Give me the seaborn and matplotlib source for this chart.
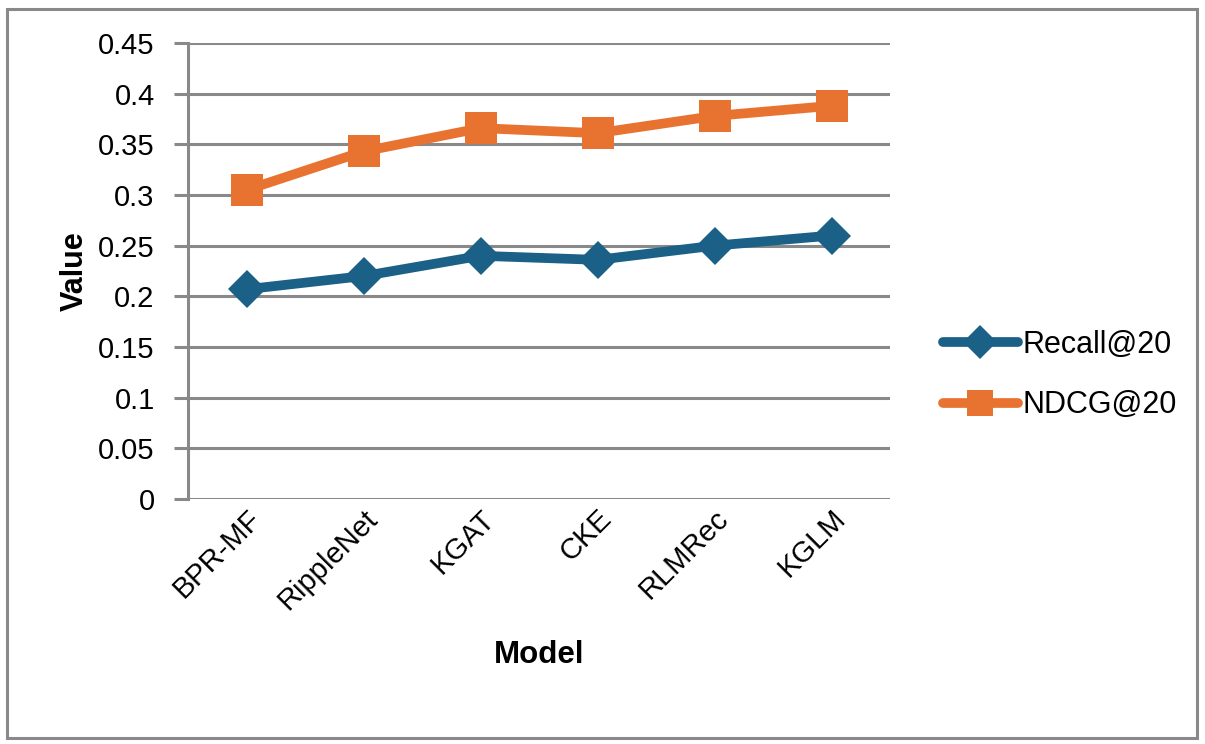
import matplotlib
matplotlib.use("Agg")
import matplotlib.pyplot as plt
import seaborn as sns
import pandas as pd
from matplotlib.patches import Rectangle

models = ["BPR-MF", "RippleNet", "KGAT", "CKE", "RLMRec", "KGLM"]
recall20 = [0.207, 0.220, 0.240, 0.236, 0.250, 0.260]
ndcg20 = [0.305, 0.343, 0.366, 0.361, 0.378, 0.388]
series_names = ["Recall@20", "NDCG@20"]
yticks = [0, 0.05, 0.1, 0.15, 0.2, 0.25, 0.3, 0.35, 0.4, 0.45]
ytick_labels = ["0", "0.05", "0.1", "0.15", "0.2", "0.25", "0.3", "0.35", "0.4", "0.45"]

df = pd.DataFrame({
    "Model": models * 2,
    "Value": recall20 + ndcg20,
    "Series": [series_names[0]] * len(models) + [series_names[1]] * len(models),
})

sns.set_theme(style="white")
plt.rcParams["font.family"] = ["Liberation Sans", "DejaVu Sans"]
plt.rcParams["text.color"] = "black"
plt.rcParams["axes.labelcolor"] = "black"
plt.rcParams["xtick.color"] = "black"
plt.rcParams["ytick.color"] = "black"

fig = plt.figure(figsize=(12.05, 7.44), dpi=100)
ax = fig.add_axes([188 / 1205, 1 - 499 / 744, (890 - 188) / 1205, (499 - 43) / 744])

grid_c = "#898989"
for yt in yticks:
    ax.axhline(yt, color=grid_c, lw=2.2, zorder=0)

palette = {"Recall@20": "#1b6086", "NDCG@20": "#e87331"}
markers = {"Recall@20": "D", "NDCG@20": "s"}
sns.lineplot(data=df, x="Model", y="Value", hue="Series", style="Series",
             markers=markers, dashes=False, palette=palette, ax=ax,
             lw=7, markersize=22, markeredgewidth=0, sort=False, zorder=3)
for ln in ax.get_lines():
    if ln.get_marker() == "D":
        ln.set_markersize(19.5)
    elif ln.get_marker() == "s":
        ln.set_markersize(22.5)

ax.set_xlim(-0.5, len(models) - 0.5)
ax.set_ylim(0, 0.45)
ax.set_yticks(yticks)
ax.set_yticklabels(ytick_labels, fontsize=21, color="black")
ax.set_xticks(range(len(models)))
ax.set_xticklabels(models, fontsize=21, rotation=45, ha="right", va="top",
                   rotation_mode="anchor", color="black")
ax.tick_params(axis="y", length=10, width=2.2, color=grid_c, pad=14, left=True,
               labelcolor="black")
ax.tick_params(axis="x", length=0, pad=4, labelcolor="black")

for s in ["top", "right", "bottom"]:
    ax.spines[s].set_visible(False)
ax.spines["left"].set_color(grid_c)
ax.spines["left"].set_linewidth(2.2)

ax.set_xlabel("Model", fontsize=22.5, fontweight="bold", labelpad=18, color="black")
ax.set_ylabel("Value", fontsize=22, fontweight="bold", labelpad=6, color="black")

handles, labels = ax.get_legend_handles_labels()
for h in handles:
    h.set_linewidth(7)
    h.set_solid_capstyle("round")
    if h.get_marker() == "D":
        h.set_markersize(17)
    else:
        h.set_markersize(19)
leg = ax.legend(handles, labels, loc="center left", bbox_to_anchor=(1.075, 0.272),
                frameon=False, fontsize=22, handlelength=2.45, handletextpad=0.15,
                labelspacing=1.0, borderaxespad=0, borderpad=0)
for t in leg.get_texts():
    t.set_color("black")

fig.patches.append(Rectangle((7 / 1205, 6 / 744), 1190 / 1205, 729 / 744,
                             transform=fig.transFigure, fill=False,
                             edgecolor="#898989", lw=2.2))

fig.savefig("out.png", dpi=100)
